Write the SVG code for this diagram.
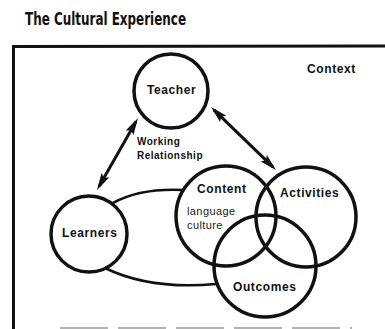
<svg xmlns="http://www.w3.org/2000/svg" width="385" height="329" viewBox="0 0 385 329">
  <style>
    .ring { fill: none; stroke: #111; stroke-width: 3.5; }
    .lbl { font-family: "Liberation Sans", Arial, sans-serif; font-weight: bold; font-size: 12px; letter-spacing: 0.6px; fill: #111; }
    .sub { font-family: "Liberation Sans", Arial, sans-serif; font-size: 11px; letter-spacing: 0.4px; fill: #222; }
    .small { font-family: "Liberation Sans", Arial, sans-serif; font-weight: bold; font-size: 10px; letter-spacing: 0.5px; fill: #111; }
    .arrow { stroke: #111; stroke-width: 3; fill: none; marker-start: url(#ah); marker-end: url(#ah); }
    .curve { stroke: #111; stroke-width: 2.6; fill: none; }
  </style>
  <defs>
    <marker id="ah" markerUnits="userSpaceOnUse" markerWidth="18" markerHeight="10" viewBox="0 -5 18 10" refX="13" refY="0" orient="auto-start-reverse">
      <path d="M0,-4.5 L17,0 L0,4.5 L3,0 z" fill="#111"/>
    </marker>
  </defs>
  <rect width="385" height="329" fill="#fff"/>

  <text x="25" y="25" font-family="'Liberation Sans Narrow', 'DejaVu Sans Condensed', 'Liberation Sans', sans-serif" font-weight="bold" font-size="17" textLength="161" lengthAdjust="spacingAndGlyphs" fill="#111">The Cultural Experience</text>

  <g id="context">
    <path d="M13.5,329 L13.5,46.5 L385,46" fill="none" stroke="#111" stroke-width="3"/>
    <line x1="60" y1="328" x2="352" y2="328" stroke="#999" stroke-width="1.5" stroke-dasharray="48,10"/>
    <text x="307" y="73" class="lbl" font-size="11" letter-spacing="1.3">Context</text>
  </g>

  <g id="connectors">
    <line class="arrow" x1="136" y1="121.5" x2="99" y2="186.5"/>
    <line class="arrow" x1="213.9" y1="109.8" x2="273.1" y2="167.2"/>
    <path class="curve" d="M113,203 Q140,188 183,190"/>
    <path class="curve" d="M105,268 Q150,290 216,284"/>
    <text x="137" y="145" class="small">Working</text>
    <text x="137" y="159" class="small">Relationship</text>
  </g>

  <g id="node-teacher">
    <circle class="ring" cx="171" cy="91" r="37"/>
    <text x="147" y="94" class="lbl">Teacher</text>
  </g>

  <g id="node-learners">
    <circle class="ring" cx="89" cy="234" r="38"/>
    <text x="62" y="237" class="lbl" letter-spacing="0.4">Learners</text>
  </g>

  <g id="node-content">
    <circle class="ring" cx="226" cy="216" r="50"/>
    <text x="197" y="193" class="lbl" letter-spacing="0.5">Content</text>
    <text x="187" y="215" class="sub">language</text>
    <text x="187" y="229" class="sub">culture</text>
  </g>

  <g id="node-activities">
    <circle class="ring" cx="306" cy="217" r="50"/>
    <text x="280" y="197" class="lbl" letter-spacing="0.5">Activities</text>
  </g>

  <g id="node-outcomes">
    <circle class="ring" cx="265" cy="266" r="51"/>
    <text x="233" y="291" class="lbl">Outcomes</text>
  </g>
</svg>
